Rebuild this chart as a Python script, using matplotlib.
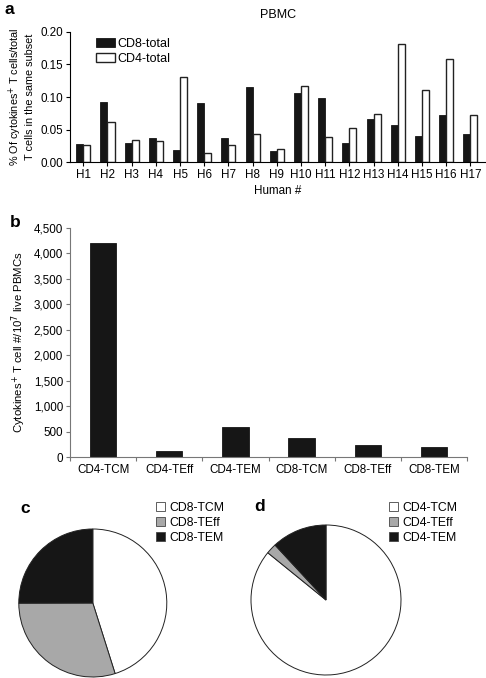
import matplotlib
matplotlib.use("Agg")
import matplotlib.pyplot as plt
from matplotlib.patches import Patch
from matplotlib.ticker import FuncFormatter

plt.rcParams['font.family'] = ['Liberation Sans', 'DejaVu Sans']

# ---- data ----
humans = ["H%d" % i for i in range(1, 18)]
cd8_total = [0.028, 0.093, 0.029, 0.037, 0.019, 0.091, 0.037, 0.115, 0.017,
             0.106, 0.099, 0.030, 0.066, 0.057, 0.041, 0.072, 0.044]
cd4_total = [0.026, 0.061, 0.034, 0.032, 0.131, 0.015, 0.027, 0.044, 0.021,
             0.117, 0.038, 0.052, 0.074, 0.181, 0.110, 0.158, 0.073]

subsets = ["CD4-TCM", "CD4-TEff", "CD4-TEM", "CD8-TCM", "CD8-TEff", "CD8-TEM"]
counts = [4200, 110, 582, 366, 242, 203]

cd8_labels = ["CD8-TCM", "CD8-TEff", "CD8-TEM"]
cd8_pie = [366, 242, 203]
cd4_labels = ["CD4-TCM", "CD4-TEff", "CD4-TEM"]
cd4_pie = [4200, 110, 582]

W, H = 486, 678
fig = plt.figure(figsize=(W / 100, H / 100), dpi=100)


def ax_px(left, top, right, bottom):
    return fig.add_axes([left / W, 1 - bottom / H, (right - left) / W, (bottom - top) / H])


FS = 8.4
BLACK = "#161616"
GRAY = "#a8a8a8"

# ---- panel a ----
axa = ax_px(70, 31.7, 486, 162.3)
x = list(range(len(humans)))
bw = 0.29
axa.bar([i - bw / 2 for i in x], cd8_total, bw, color=BLACK, edgecolor=BLACK, linewidth=0.6, label="CD8-total")
axa.bar([i + bw / 2 for i in x], cd4_total, bw, color="white", edgecolor="#222222", linewidth=1.0, label="CD4-total")
axa.set_xlim(-0.55, 16.65)
axa.set_ylim(0, 0.2)
axa.set_yticks([0, 0.05, 0.10, 0.15, 0.20])
axa.yaxis.set_major_formatter(FuncFormatter(lambda v, p: "%.2f" % v))
axa.set_xticks(x)
axa.set_xticklabels(humans)
for s in ["top", "right"]:
    axa.spines[s].set_visible(False)
for s in ["left", "bottom"]:
    axa.spines[s].set_linewidth(0.8)
axa.tick_params(labelsize=FS, length=3, width=0.8, pad=2)
axa.set_xlabel("Human #", fontsize=FS, labelpad=3)
axa.set_ylabel("% Of cytokines$^{+}$ T cells/total\nT cells in the same subset", fontsize=7.8, labelpad=4, linespacing=1.1)
axa.set_title("PBMC", fontsize=9, pad=10)
axa.legend(loc="upper left", bbox_to_anchor=(96 / W, 1 - 38 / H), bbox_transform=fig.transFigure,
           frameon=False, fontsize=9, handlelength=1.5, handleheight=0.75, handletextpad=0.25,
           labelspacing=0.2, borderpad=0, borderaxespad=0)

# ---- panel b ----
axb = ax_px(70, 228, 467, 457)
xb = list(range(len(subsets)))
axb.bar(xb, counts, 0.4, color=BLACK, edgecolor=BLACK, linewidth=0.6)
axb.set_xlim(-0.5, 5.5)
axb.set_ylim(0, 4500)
axb.set_yticks(range(0, 4501, 500))
axb.yaxis.set_major_formatter(FuncFormatter(lambda v, p: "{:,}".format(int(v))))
axb.set_xticks([i - 0.5 for i in range(7)], minor=False)
axb.set_xticklabels([""] * 7)
axb.set_xticks(xb, minor=True)
axb.set_xticklabels(subsets, minor=True)
axb.tick_params(axis="x", which="minor", length=0, labelsize=FS, pad=5)
axb.tick_params(axis="x", which="major", length=3, width=0.8, color="#777777")
axb.tick_params(axis="y", labelsize=FS, length=3, width=0.8, color="#777777", pad=2)
for s in ["top", "right"]:
    axb.spines[s].set_visible(False)
for s in ["left", "bottom"]:
    axb.spines[s].set_linewidth(0.8)
    axb.spines[s].set_color("#777777")
axb.set_ylabel("Cytokines$^{+}$ T cell #/10$^{7}$ live PBMCs", fontsize=8.2, labelpad=4)

# ---- pies ----
pie_colors = ["white", GRAY, BLACK]


def draw_pie(cx, cy, r, vals, labels, leg_x, leg_y):
    ax = ax_px(cx - r, cy - r, cx + r, cy + r)
    ax.pie(vals, colors=pie_colors, startangle=90, counterclock=False,
           wedgeprops=dict(edgecolor="#222222", linewidth=0.7))
    ax.set_xlim(-1, 1)
    ax.set_ylim(-1, 1)
    ax.set_aspect("equal")
    handles = [Patch(facecolor=c, edgecolor="#444444", linewidth=0.6) for c in pie_colors]
    fig.legend(handles, labels, loc="upper left", bbox_to_anchor=(leg_x / W, 1 - leg_y / H),
               frameon=False, fontsize=8.8, handlelength=0.75, handleheight=0.75,
               handletextpad=0.35, labelspacing=0.25, borderpad=0, borderaxespad=0)


draw_pie(92.8, 603, 74, cd8_pie, cd8_labels, 156, 502)
draw_pie(326, 600, 75, cd4_pie, cd4_labels, 389, 502)

# ---- panel letters ----
for lab, px, py in [("a", 4, 14), ("b", 10, 227), ("c", 20, 513), ("d", 254, 511)]:
    fig.text(px / W, 1 - py / H, lab, fontsize=12.5, fontweight="bold", ha="left", va="baseline")

fig.savefig("out.png", dpi=100)
